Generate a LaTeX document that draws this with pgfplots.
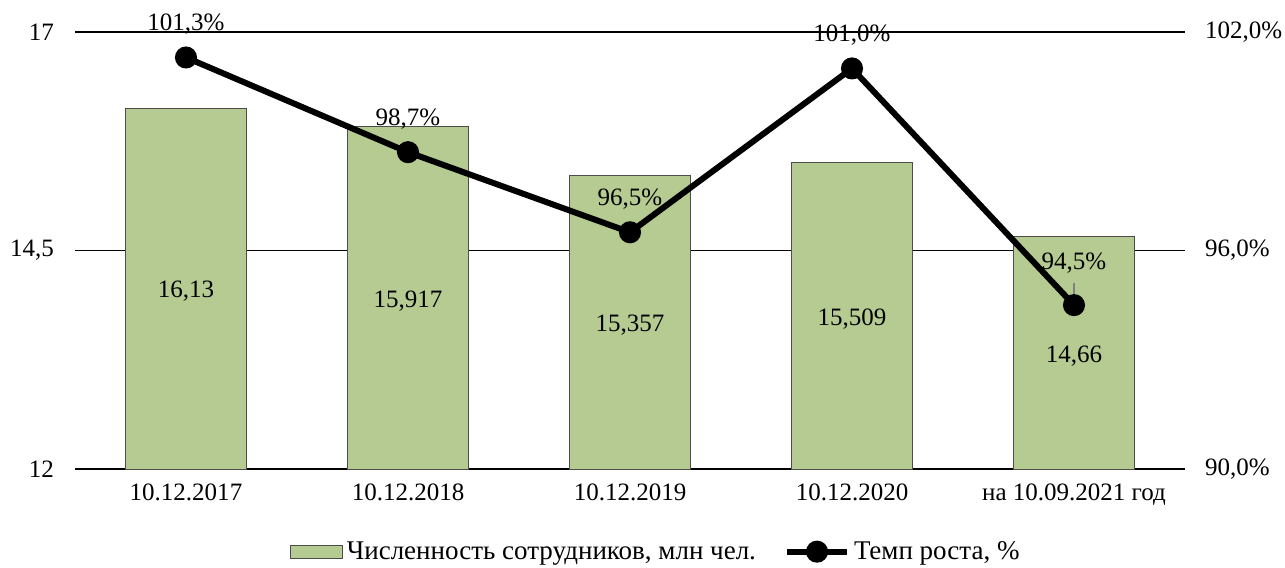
\documentclass[border=0pt]{standalone}
\usepackage{pgfplots}
\pgfplotsset{compat=1.18}
\usepackage{fontspec}
\setmainfont{Liberation Serif}
\definecolor{barGreen}{HTML}{B5CB92}
\newcommand{\lblfont}{\fontsize{12.5}{15}\selectfont}
\pgfplotsset{
  barleg/.style={legend image code/.code={\draw[##1] (0pt,-3.25pt) rectangle (26pt,3.25pt);}},
  lineleg/.style={legend image code/.code={\draw[mark repeat=2, mark phase=2, ##1]
    plot coordinates {(0pt,0pt) (15pt,0pt) (30pt,0pt)};}},
}

% employees, mln
\pgfplotstableread{
x val lab
0 16.13 16,13
1 15.917 15,917
2 15.357 15,357
3 15.509 15,509
4 14.66 14,66
}\staff

% growth rate, %
\pgfplotstableread{
x rate lab
0 101.3 101,3
1 98.7 98,7
2 96.5 96,5
3 101.0 101,0
4 94.5 94,5
}\growth

\begin{document}
\begin{tikzpicture}
\begin{axis}[
  name=main,
  scale only axis, width=555pt, height=218.5pt,
  xmin=-0.5, xmax=4.5, ymin=12, ymax=17,
  xtick={0,...,4},
  xticklabels={10.12.2017,10.12.2018,10.12.2019,10.12.2020,на 10.09.2021 год},
  ytick={12,14.5,17}, yticklabels={12,{14,5},17},
  ymajorgrids, grid style={black, line width=0.8pt},
  axis line style={draw=none},
  major tick length=0pt,
  tick label style={font=\lblfont},
  yticklabel style={xshift=-7pt},
  xticklabel style={yshift=-4pt},
  ybar, bar width=60.5pt,
]
\addplot[fill=barGreen, draw=black!70, line width=0.5pt,
  nodes near coords, point meta=explicit symbolic,
  visualization depends on={y \as \barval},
  every node near coord/.append style={anchor=center, font=\lblfont,
    yshift={-(\barval-12)*21.85-1.5}}]
  table[x=x, y=val, meta=lab] {\staff};
\end{axis}

\begin{axis}[
  scale only axis, width=555pt, height=218.5pt,
  xmin=-0.5, xmax=4.5, ymin=90, ymax=102,
  axis x line=none, axis y line*=right,
  y axis line style={draw=none},
  ytick={90,96,102}, yticklabels={{90,0\%},{96,0\%},{102,0\%}},
  major tick length=0pt,
  tick label style={font=\lblfont},
  yticklabel style={xshift=6.5pt},
  clip=false,
  legend style={at={(0.524,-0.146)}, anchor=north, draw=none, fill=none,
    legend columns=2, font=\fontsize{13.5}{16}\selectfont,
    /tikz/every even column/.append style={column sep=12pt}},
]
\addlegendimage{fill=barGreen, draw=black!70, line width=0.5pt, barleg}
\addlegendentry{Численность сотрудников, млн чел.}

\draw[gray, line width=0.8pt] (axis cs:4,95.12) -- (axis cs:4,94.65);

\addplot[black, line width=3pt, mark=*, mark size=4pt, lineleg,
  nodes near coords={\pgfplotspointmeta\%}, point meta=explicit symbolic,
  visualization depends on={x \as \xval},
  every node near coord/.append style={anchor=center, font=\lblfont,
    yshift={ifthenelse(\xval>3.5,21,16.5)}}]
  table[x=x, y=rate, meta=lab] {\growth};
\addlegendentry{Темп роста, \%}
\end{axis}
\pgfresetboundingbox
\path[use as bounding box] ([shift={(-37.5pt,-49pt)}]main.south west)
  rectangle ([shift={(50pt,16pt)}]main.north east);
\end{tikzpicture}
\end{document}
